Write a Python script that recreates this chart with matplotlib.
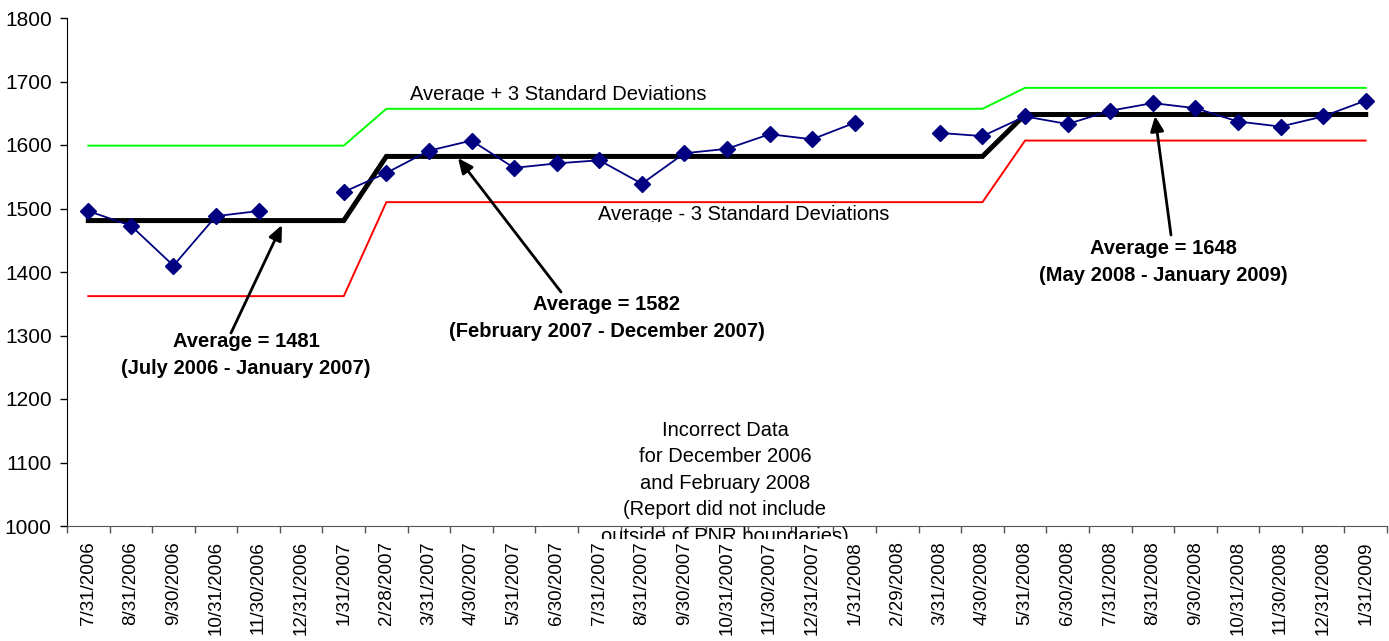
import numpy as np
import matplotlib
matplotlib.use("Agg")
import matplotlib.pyplot as plt
from matplotlib.transforms import Bbox

plt.rcParams['font.family'] = ['Liberation Sans', 'DejaVu Sans']

dates = ["7/31/2006", "8/31/2006", "9/30/2006", "10/31/2006", "11/30/2006", "12/31/2006",
         "1/31/2007", "2/28/2007", "3/31/2007", "4/30/2007", "5/31/2007", "6/30/2007",
         "7/31/2007", "8/31/2007", "9/30/2007", "10/31/2007", "11/30/2007", "12/31/2007",
         "1/31/2008", "2/29/2008", "3/31/2008", "4/30/2008", "5/31/2008", "6/30/2008",
         "7/31/2008", "8/31/2008", "9/30/2008", "10/31/2008", "11/30/2008", "12/31/2008",
         "1/31/2009"]
values = [1496, 1473, 1410, 1488, 1496, np.nan,
          1526, 1556, 1591, 1607, 1564, 1571,
          1576, 1539, 1587, 1594, 1617, 1609,
          1635, np.nan, 1619, 1614, 1645, 1633,
          1654, 1666, 1658, 1637, 1629, 1645,
          1670]
average = [1481] * 7 + [1582] * 15 + [1648] * 9
upper = [1599] * 7 + [1657] * 15 + [1690] * 9
lower = [1362] * 7 + [1510] * 15 + [1607] * 9

W, H = 1389, 641
fig = plt.figure(figsize=(W / 100, H / 100), dpi=100)
ax = fig.add_axes([67 / W, 1 - 526 / H, 1320 / W, 508 / H])

x = np.arange(len(dates))
ax.plot(x, upper, color='#00ff00', lw=1.4, zorder=2)
ax.plot(x, lower, color='#ff0000', lw=1.4, zorder=2)
ax.plot(x, average, color='black', lw=3.6, zorder=3, solid_joinstyle='miter')
ax.plot(x, values, color='#000080', lw=1.3, marker='D', ms=8.5,
        markerfacecolor='#000080', markeredgecolor='#000080', zorder=4)

ax.set_xlim(-0.5, len(dates) - 0.5)
ax.set_ylim(1000, 1800)
ax.set_yticks(range(1000, 1801, 100))
ax.tick_params(axis='y', labelsize=15, length=5, width=1, pad=6, direction='out')
ax.set_xticks(x)
ax.set_xticklabels(dates, rotation=90, fontsize=13.5)
ax.set_xticks(np.arange(-0.5, len(dates), 1), minor=True)
ax.tick_params(axis='x', which='major', length=0, pad=11)
ax.tick_params(axis='x', which='minor', length=5, width=1, color='#555555')
for s in ['top', 'right']:
    ax.spines[s].set_visible(False)
ax.spines['left'].set_color('black')
ax.spines['bottom'].set_color('#555555')


def px2data(px, py):
    return ((px - 67) / (1320 / 31) - 0.5, 1800 - (py - 18) * 800 / 508)


def clip_below(t, py):
    t.set_clip_on(True)
    t.set_clip_box(Bbox.from_extents(0, H - py, W, H))


t = ax.text(*px2data(410, 94), "Average + 3 Standard Deviations", fontsize=14.5,
            ha='left', va='center', zorder=5)
clip_below(t, 101)
t = ax.text(*px2data(598, 214), "Average - 3 Standard Deviations", fontsize=14.5,
            ha='left', va='center', zorder=5)
clip_below(t, 222)

arrowprops = dict(arrowstyle='-|>,head_length=0.9,head_width=0.4', color='black', lw=2,
                  shrinkA=0, shrinkB=0)
ax.annotate("", xy=px2data(282, 225), xytext=px2data(231, 333), arrowprops=arrowprops, zorder=6)
ax.annotate("", xy=px2data(458, 158), xytext=px2data(561, 292), arrowprops=arrowprops, zorder=6)
ax.annotate("", xy=px2data(1155, 116), xytext=px2data(1171, 235), arrowprops=arrowprops, zorder=6)

ax.text(*px2data(246, 355), "Average = 1481\n(July 2006 - January 2007)", fontsize=14.5,
        fontweight='bold', ha='center', va='center', linespacing=1.5, zorder=7)
ax.text(*px2data(607, 318), "Average = 1582\n(February 2007 - December 2007)", fontsize=14.5,
        fontweight='bold', ha='center', va='center', linespacing=1.5, zorder=7)
ax.text(*px2data(1163, 262), "Average = 1648\n(May 2008 - January 2009)", fontsize=14.5,
        fontweight='bold', ha='center', va='center', linespacing=1.5, zorder=7)

t = ax.text(*px2data(725, 421), "Incorrect Data\nfor December 2006\nand February 2008\n"
            "(Report did not include\noutside of PNR boundaries)", fontsize=14.5,
            ha='center', va='top', linespacing=1.5, zorder=5)
clip_below(t, 539)

fig.savefig("out.png", dpi=100)
